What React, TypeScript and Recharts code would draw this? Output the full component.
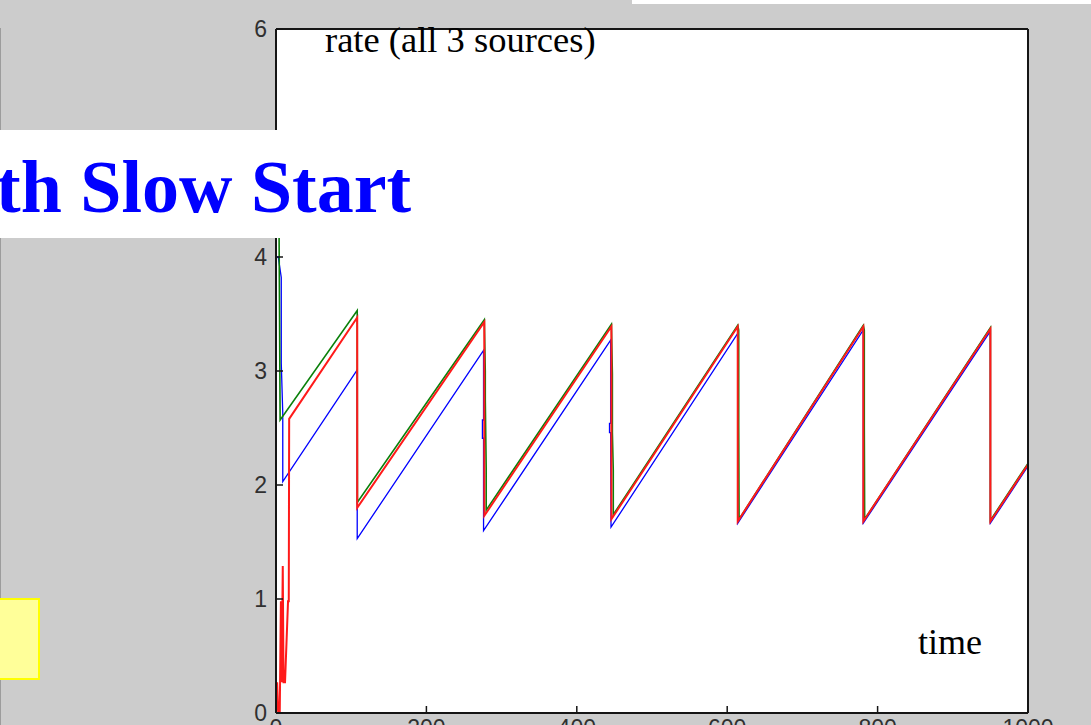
import React from 'react'
import { LineChart, Line, XAxis, YAxis, CartesianGrid } from 'recharts'

// axis ticks
const xTicks = [0, 200, 400, 600, 800, 1000]
const yTicks = [0, 1, 2, 3, 4, 5, 6]

// source 1 (red) - time / rate
const redT = [0, 1.5, 3, 5, 6.5, 7.5, 9, 10, 12, 16, 17, 17.5, 108, 108, 277, 277, 446, 446, 614, 614, 781, 781, 950, 950, 1000]
const redV = [0, 0.27, 0, 0, 0.98, 0.27, 1.29, 0.27, 0.27, 0.98, 0.98, 2.58, 3.47, 1.8, 3.43, 1.73, 3.39, 1.7, 3.39, 1.68, 3.39, 1.68, 3.37, 1.68, 2.18]

// source 2 (green)
const greenT = [0, 4, 5.5, 108, 108.3, 277, 278.3, 278.3, 279.5, 279.5, 446, 447.3, 447.3, 448.5, 448.5, 614, 615.3, 615.3, 615.8, 781, 782.3, 782.3, 782.8, 950, 950, 1000]
const greenV = [4.7, 4.3, 2.57, 3.53, 1.85, 3.45, 3.0, 2.75, 2.15, 1.78, 3.41, 2.98, 2.46, 2.13, 1.74, 3.4, 3.36, 2.53, 1.7, 3.4, 3.36, 2.53, 1.7, 3.38, 1.69, 2.19]

// source 3 (blue)
const blueT = [0, 3, 7, 7, 9, 9, 108, 108, 276, 276, 274.5, 274.5, 276, 276, 445, 445, 443.5, 443.5, 445, 445.5, 614, 614, 781, 781, 950, 950, 1000]
const blueV = [4.0, 4.0, 3.82, 3.07, 2.63, 2.03, 3.01, 1.53, 3.18, 2.57, 2.57, 2.41, 2.41, 1.6, 3.27, 2.54, 2.54, 2.46, 2.46, 1.63, 3.33, 1.665, 3.36, 1.665, 3.35, 1.665, 2.165]

const toPoints = (t: number[], v: number[]) => t.map((x, i) => ({ t: x, v: v[i] }))

const redData = toPoints(redT, redV)
const greenData = toPoints(greenT, greenV)
const blueData = toPoints(blueT, blueV)

const INK = '#151515'
const axisStroke = { stroke: INK, strokeWidth: 2 }
const TICK = 7
const tickFont = { fill: '#303030', fontSize: 23, fontFamily: 'Liberation Sans, Arial, sans-serif' }
const serif = '"Liberation Serif", "Times New Roman", serif'

// matlab style ticks point into the plot box
const LeftTick = (p: any) => (
  <g>
    <line x1={p.x} y1={p.y} x2={p.x + TICK} y2={p.y} stroke={INK} strokeWidth={1.5} />
    <text x={p.x - 9} y={p.y} dy="0.36em" textAnchor="end" {...tickFont}>
      {p.payload.value}
    </text>
  </g>
)
const BottomTick = (p: any) => (
  <g>
    <line x1={p.x} y1={p.y} x2={p.x} y2={p.y - TICK} stroke={INK} strokeWidth={1.5} />
    <text x={p.x} y={p.y + 5} dy="0.8em" textAnchor="middle" {...tickFont}>
      {p.payload.value}
    </text>
  </g>
)
const TopTick = (p: any) => <line x1={p.x} y1={p.y} x2={p.x} y2={p.y + TICK} stroke={INK} strokeWidth={1.5} />
const RightTick = (p: any) => <line x1={p.x} y1={p.y} x2={p.x - TICK} y2={p.y} stroke={INK} strokeWidth={1.5} />

export default function App() {
  return (
    <div
      style={{
        position: 'absolute',
        left: 0,
        top: 0,
        width: 1091,
        height: 725,
        overflow: 'hidden',
        background: '#cccccc',
      }}
    >
      {/* leftover slide edge */}
      <div style={{ position: 'absolute', left: 0, top: 28, width: 1, height: 700, background: '#9c9c9c' }} />
      <div style={{ position: 'absolute', left: 632, top: 0, width: 459, height: 4, background: '#fff' }} />

      <div style={{ position: 'absolute', left: 0, top: 0 }}>
        <LineChart width={1091} height={750} margin={{ top: 28, right: 62, bottom: 7, left: 236 }}>
          <CartesianGrid horizontal={false} vertical={false} fill="#fff" />
          <XAxis
            dataKey="t"
            type="number"
            domain={[0, 1000]}
            ticks={xTicks}
            interval={0}
            allowDataOverflow
            height={30}
            axisLine={axisStroke}
            tickLine={false}
            tickSize={0}
            tickMargin={0}
            tick={BottomTick}
          />
          <XAxis
            xAxisId="top"
            orientation="top"
            dataKey="t"
            type="number"
            domain={[0, 1000]}
            ticks={xTicks}
            interval={0}
            height={1}
            axisLine={axisStroke}
            tickLine={false}
            tickSize={0}
            tickMargin={0}
            tick={TopTick}
          />
          <YAxis
            type="number"
            domain={[0, 6]}
            ticks={yTicks}
            interval={0}
            allowDataOverflow
            width={40}
            axisLine={axisStroke}
            tickLine={false}
            tickSize={0}
            tickMargin={0}
            tick={LeftTick}
          />
          <YAxis
            yAxisId="right"
            orientation="right"
            type="number"
            domain={[0, 6]}
            ticks={yTicks}
            interval={0}
            width={1}
            axisLine={axisStroke}
            tickLine={false}
            tickSize={0}
            tickMargin={0}
            tick={RightTick}
          />
          <Line data={blueData} dataKey="v" stroke="#0000ff" strokeWidth={1.3} dot={false} isAnimationActive={false} />
          <Line data={greenData} dataKey="v" stroke="#0a800a" strokeWidth={1.6} dot={false} isAnimationActive={false} />
          <Line data={redData} dataKey="v" stroke="#ff1a1a" strokeWidth={2} dot={false} isAnimationActive={false} />
        </LineChart>
      </div>

      {/* chart texts */}
      <div
        style={{
          position: 'absolute',
          left: 325,
          top: 20,
          fontFamily: serif,
          fontSize: 36.5,
          lineHeight: '40px',
          color: '#000',
          whiteSpace: 'nowrap',
        }}
      >
        rate (all 3 sources)
      </div>
      <div
        style={{
          position: 'absolute',
          left: 918,
          top: 622,
          fontFamily: serif,
          fontSize: 36,
          lineHeight: '40px',
          color: '#000',
        }}
      >
        time
      </div>

      {/* slide title box */}
      <div
        style={{
          position: 'absolute',
          left: 0,
          top: 130,
          width: 420,
          height: 108,
          background: '#fff',
          overflow: 'hidden',
        }}
      >
        <div
          style={{
            position: 'absolute',
            left: -4,
            top: 20,
            fontFamily: serif,
            fontWeight: 'bold',
            fontSize: 74,
            lineHeight: '74px',
            color: '#0000ff',
            whiteSpace: 'nowrap',
          }}
        >
          th Slow Start
        </div>
      </div>

      {/* yellow note box */}
      <div
        style={{
          position: 'absolute',
          left: -2,
          top: 598,
          width: 38,
          height: 78,
          background: '#ffff99',
          border: '2px solid #ffff00',
        }}
      />
    </div>
  )
}
